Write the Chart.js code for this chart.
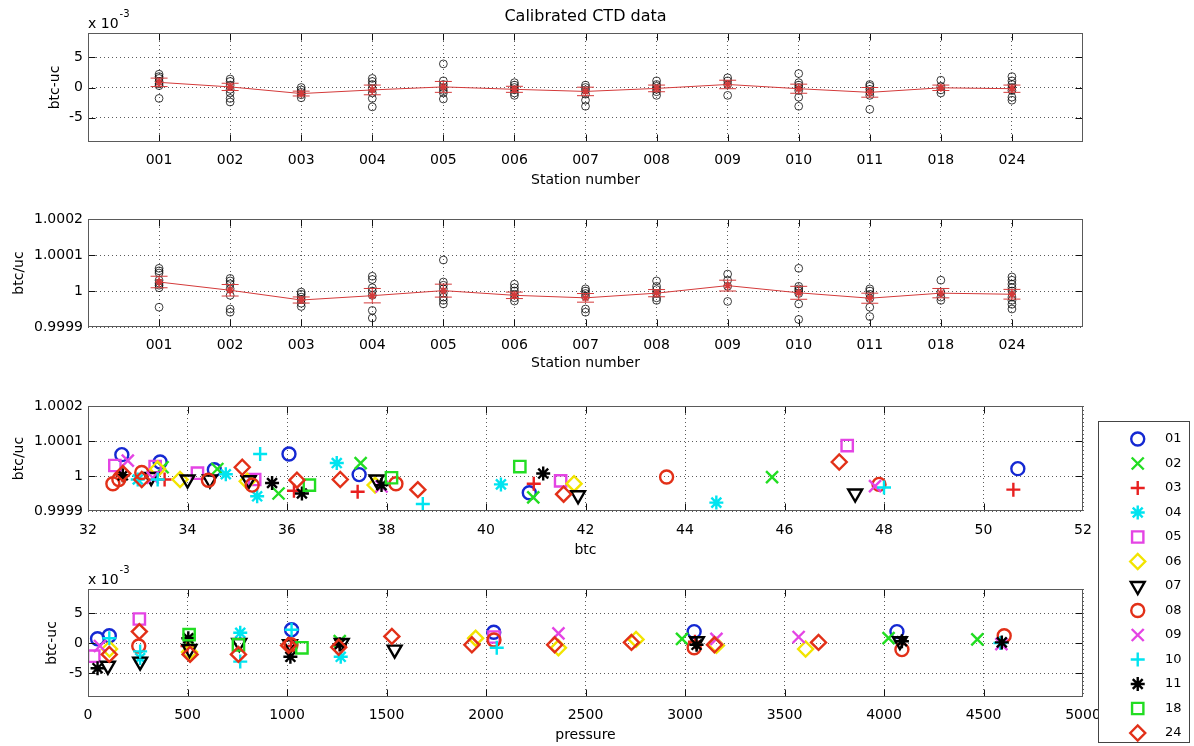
<!DOCTYPE html>
<html><head><meta charset="utf-8">
<script src="https://cdn.jsdelivr.net/npm/chart.js@4.4.1/dist/chart.umd.min.js"></script>
<style>
html,body{margin:0;padding:0;background:#fff;}
body{width:1194px;height:746px;position:relative;overflow:hidden;}
canvas{position:absolute;left:0;}
#legendBox{position:absolute;left:1098px;top:421px;width:92px;height:322px;box-sizing:border-box;border:1px solid #444;background:#fff;z-index:5;}
#cLegend{left:1099px;top:401px;z-index:6;}
</style></head><body>
<canvas id="c1" width="1194" height="200" style="top:0px"></canvas>
<canvas id="c2" width="1194" height="180" style="top:200px"></canvas>
<canvas id="c3" width="1194" height="186" style="top:380px"></canvas>
<canvas id="c4" width="1194" height="186" style="top:560px"></canvas>
<div id="legendBox"></div>
<canvas id="cLegend" width="90" height="362"></canvas>
<script>
// ---------------- data ----------------
const stations = ['001','002','003','004','005','006','007','008','009','010','011','018','024'];

// btc-uc per station (units of 1e-3)
const stationDiff = [
  [2.2, 1.8, 1.5, 1.0, 0.6, 0.3, -1.8],
  [1.4, 1.0, 0.4, -0.3, -0.9, -1.8, -2.4],
  [0.0, -0.4, -0.8, -1.2, -1.7],
  [1.5, 1.0, 0.5, -0.2, -0.9, -1.8, -3.2],
  [3.9, 1.1, 0.5, 0.0, -0.5, -0.9, -1.9],
  [0.8, 0.4, 0.0, -0.4, -0.9, -1.3],
  [0.4, 0.0, -0.4, -1.1, -2.1, -3.1],
  [1.1, 0.5, 0.2, -0.3, -0.7, -1.3],
  [1.6, 1.1, 0.5, -1.3],
  [2.3, 0.8, 0.4, 0.0, -0.5, -1.6, -3.1],
  [0.5, 0.2, -0.3, -0.8, -1.3, -3.6],
  [1.2, 0.2, -0.4, -0.9],
  [1.8, 1.1, 0.5, 0.0, -0.5, -1.6, -2.1]
];
const meanDiff = [0.85, 0.1, -1.0, -0.4, 0.1, -0.3, -0.65, -0.15, 0.5, -0.2, -0.8, -0.05, -0.2];
const errDiff  = [0.7, 0.6, 0.4, 0.8, 0.9, 0.5, 0.7, 0.55, 0.7, 0.75, 0.8, 0.45, 0.6];

// btc/uc per station
const stationRatio = [
  [1.000063, 1.000056, 1.000050, 1.000030, 1.000022, 1.000016, 1.000009, 0.999955],
  [1.000035, 1.000028, 1.000020, 1.000006, 0.999988, 0.999950, 0.999941],
  [0.999997, 0.999991, 0.999983, 0.999976, 0.999966, 0.999957],
  [1.000041, 1.000032, 1.000009, 1.000000, 0.999988, 0.999946, 0.999925],
  [1.000086, 1.000025, 1.000016, 1.000006, 0.999994, 0.999983, 0.999974, 0.999964],
  [1.000019, 1.000009, 1.000000, 0.999991, 0.999981, 0.999972],
  [1.000006, 1.000000, 0.999993, 0.999985, 0.999950, 0.999941],
  [1.000028, 1.000013, 1.000004, 0.999993, 0.999981, 0.999974],
  [1.000047, 1.000030, 1.000013, 0.999971],
  [1.000063, 1.000013, 1.000006, 1.000000, 0.999993, 0.999964, 0.999921],
  [1.000006, 1.000000, 0.999991, 0.999979, 0.999955, 0.999929],
  [1.000030, 0.999997, 0.999983, 0.999974],
  [1.000039, 1.000030, 1.000019, 1.000009, 1.000000, 0.999983, 0.999974, 0.999963, 0.999950]
];
const meanRatio = [1.000025, 1.000002, 0.999975, 0.999987, 1.000001, 0.999988, 0.999981, 0.999994, 1.000015, 0.999995, 0.999980, 0.999994, 0.999991];
const errRatio  = [0.000016, 0.000016, 0.0000085, 0.000020, 0.000018, 0.000009, 0.000012, 0.000010, 0.000015, 0.000018, 0.000014, 0.000013, 0.0000135];

// per series (bottle set) values
const seriesNames = ['01','02','03','04','05','06','07','08','09','10','11','18','24'];
const btcX = [
  [32.68, 33.45, 34.54, 36.04, 37.45, 40.87, 50.69],
  [33.5, 34.6, 35.83, 37.48, 40.95, 45.75],
  [33.54, 36.14, 37.42, 40.96, 50.6],
  [33.0, 34.77, 35.4, 37.0, 40.3, 44.63],
  [32.54, 33.35, 34.2, 35.35, 41.5, 47.26],
  [33.4, 33.85, 35.2, 37.77, 41.77],
  [33.27, 34.0, 34.45, 35.23, 37.8, 41.85, 47.42],
  [32.5, 32.62, 33.08, 34.42, 35.3, 38.19, 43.63, 47.9],
  [32.8, 33.3, 37.9, 47.82],
  [33.4, 35.46, 38.73, 48.0],
  [32.7, 35.7, 36.3, 37.9, 41.15],
  [36.45, 38.1, 40.68],
  [32.7, 33.08, 35.1, 36.2, 37.07, 38.63, 41.56, 47.1]
];
const btcRatio = [
  [1.000061, 1.000040, 1.000018, 1.000063, 1.000004, 0.999952, 1.000021],
  [1.000025, 1.000020, 0.999950, 1.000037, 0.999939, 0.999997],
  [0.999990, 0.999958, 0.999955, 0.999978, 0.999961],
  [0.999990, 1.000005, 0.999942, 1.000037, 0.999976, 0.999924],
  [1.000030, 1.000027, 1.000008, 0.999990, 0.999986, 1.000087],
  [1.000020, 0.999990, 0.999985, 0.999974, 0.999978],
  [0.999997, 0.999990, 0.999990, 0.999988, 0.999990, 0.999945, 0.999950],
  [0.999978, 0.999990, 1.000010, 0.999988, 0.999974, 0.999978, 0.999997, 0.999976],
  [1.000044, 0.999995, 0.999970, 0.999971],
  [0.999990, 1.000063, 0.999920, 0.999967],
  [1.000002, 0.999980, 0.999950, 0.999974, 1.000007],
  [0.999974, 0.999995, 1.000027],
  [1.000007, 0.999990, 1.000025, 0.999988, 0.999990, 0.999961, 0.999948, 1.000040]
];
const presX = [
  [48, 107, 1023, 2039, 3046, 4065],
  [508, 1265, 2985, 4023, 4469],
  [500, 1020, 1265, 3050],
  [262, 765, 1270],
  [29, 258, 2040],
  [108, 510, 1948, 2364, 2754, 3158, 3606],
  [100, 262, 510, 760, 1015, 1275, 1541, 3060, 4080],
  [255, 1020, 2040, 3046, 4090, 4604],
  [60, 2364, 3158, 3571, 4590],
  [107, 262, 765, 1023, 2054, 4585],
  [48, 504, 1017, 1265, 3058, 4090, 4592],
  [508, 756, 1075],
  [107, 258, 513, 756, 1008, 1260, 1527, 1929, 2345, 2731, 3148, 3671]
];
// btc-uc (units of 1e-3)
const presDiff = [
  [0.7, 1.2, 2.2, 1.8, 1.9, 1.9],
  [0.5, 0.3, 0.7, 0.8, 0.6],
  [-0.5, -0.5, -0.3, 0.2],
  [-2.5, 1.7, -2.3],
  [-2.2, 4.0, 1.0],
  [-1.0, -1.5, 0.8, -0.8, 0.6, -0.4, -1.0],
  [-3.8, -3.1, -1.0, 0.0, -0.2, 0.0, -1.1, 0.3, 0.3],
  [-0.5, -0.3, 0.5, -0.8, -1.1, 1.2],
  [-0.5, 1.6, 0.7, 1.0, -0.2],
  [0.8, -1.4, -3.1, 2.2, -0.8, 0.0],
  [-4.2, 0.8, -2.3, -0.2, -0.3, 0.3, 0.1],
  [1.4, -0.3, -0.8],
  [-1.9, 1.9, -1.9, -1.9, -0.4, -0.7, 1.1, -0.3, -0.3, 0.1, -0.3, 0.1]
];

// tick labels
const diffTicks = [-5, 0, 5];
const ratioTicks = [0.9999, 1, 1.0001, 1.0002];
const ratioTickLabels = ['0.9999', '1', '1.0001', '1.0002'];
const btcTicks = [32, 34, 36, 38, 40, 42, 44, 46, 48, 50, 52];
const presTicks = [0, 500, 1000, 1500, 2000, 2500, 3000, 3500, 4000, 4500, 5000];

// ---------------- styles ----------------
const seriesStyles = [
  {s:'circle',  c:'#1428d2', r:6.5},
  {s:'crossRot',c:'#22dd22', r:8.5},
  {s:'cross',   c:'#e82020', r:7},
  {s:'star',    c:'#00e4f0', r:7},
  {s:'rect',    c:'#e444e4', r:8},
  {s:'rectRot', c:'#f2e400', r:7.5},
  {s:'triangle',c:'#000000', r:8, rot:180},
  {s:'circle',  c:'#e23018', r:6.5},
  {s:'crossRot',c:'#e444e4', r:8.5},
  {s:'cross',   c:'#00e4f0', r:7},
  {s:'star',    c:'#000000', r:7},
  {s:'rect',    c:'#22dd22', r:8},
  {s:'rectRot', c:'#e23018', r:7.5}
];
function seriesStyle(i){
  const st = seriesStyles[i];
  return {pointStyle: st.s, pointRotation: st.rot || 0, pointRadius: st.r,
    borderColor: st.c, pointBorderColor: st.c, backgroundColor: 'rgba(0,0,0,0)',
    pointBackgroundColor: 'rgba(0,0,0,0)', pointBorderWidth: 2.4, borderWidth: 2.4, order: 12 - i};
}

Chart.defaults.font.family = "'DejaVu Sans', sans-serif";
Chart.defaults.font.size = 14;
Chart.defaults.color = '#000';
Chart.defaults.animation = false;

const boxPlugin = {
  id: 'mbox',
  afterDatasetsDraw(chart, args, opts) {
    const {ctx, chartArea: a, scales} = chart;
    const L = Math.round(a.left) + 0.5, R = Math.round(a.right) - 0.5;
    const T = Math.round(a.top) + 0.5, B = Math.round(a.bottom) - 0.5;
    ctx.save();
    ctx.lineWidth = 1;
    ctx.strokeStyle = '#111';
    ctx.beginPath();
    scales.x.ticks.forEach(t => {
      const p = Math.round(scales.x.getPixelForValue(t.value)) + 0.5;
      if (p <= L + 1 || p >= R - 1) return;
      ctx.moveTo(p, B); ctx.lineTo(p, B - 7);
      ctx.moveTo(p, T); ctx.lineTo(p, T + 7);
    });
    scales.y.ticks.forEach(t => {
      const p = Math.round(scales.y.getPixelForValue(t.value)) + 0.5;
      if (p <= T + 1 || p >= B - 1) return;
      ctx.moveTo(L, p); ctx.lineTo(L + 7, p);
      ctx.moveTo(R, p); ctx.lineTo(R - 7, p);
    });
    ctx.stroke();
    ctx.strokeStyle = '#5a5a5a';
    ctx.strokeRect(L, T, R - L, B - T);
    if (opts.exponent) {
      ctx.fillStyle = '#000';
      ctx.textBaseline = 'alphabetic';
      ctx.textAlign = 'left';
      ctx.font = "14px 'DejaVu Sans', sans-serif";
      const base = 'x 10';
      ctx.fillText(base, a.left, a.top - 5);
      const w = ctx.measureText(base).width;
      ctx.font = "10px 'DejaVu Sans', sans-serif";
      ctx.fillText(opts.exponent, a.left + w + 1, a.top - 16);
    }
    ctx.restore();
  }
};

const gridOpts = {color: 'rgba(50,50,50,0.8)', lineWidth: 1, borderDash: [1, 3], drawTicks: false};
const borderOpts = {display: false, dash: [1, 3]};

function xAxis(min, max, tickVals, labelFn, title, pad, height) {
  return {
    type: 'linear', position: 'bottom', min, max,
    grid: gridOpts, border: borderOpts,
    afterBuildTicks: s => { s.ticks = tickVals.map(v => ({value: v})); },
    afterFit: s => { s.height = height; },
    ticks: {padding: pad, autoSkip: false, maxRotation: 0, minRotation: 0, font: {size: 14},
      callback: (v, i) => labelFn(i)},
    title: {display: true, text: title, padding: 0, font: {size: 14}}
  };
}
function yAxis(min, max, tickVals, labelFn, title, width) {
  return {
    type: 'linear', position: 'left', min, max,
    grid: gridOpts, border: borderOpts,
    afterBuildTicks: s => { s.ticks = tickVals.map(v => ({value: v})); },
    afterFit: s => { s.width = width; },
    ticks: {padding: 5, font: {size: 14}, callback: (v, i) => labelFn(i)},
    title: {display: true, text: title, padding: 0, font: {size: 14}}
  };
}

function stationChart(id, values, means, errs, yMin, yMax, yT, yL, yTitle, yWidth, layout, xHeight, xPad, extra) {
  const circles = stations.flatMap((s, i) => values[i].map(v => ({x: i + 1, y: v})));
  const stems = stations.flatMap((s, i) => [{x: i + 1, y: means[i] - errs[i]}, {x: i + 1, y: means[i] + errs[i]}, {x: i + 1, y: null}]);
  const caps = stations.flatMap((s, i) => [{x: i + 1, y: means[i] - errs[i]}, {x: i + 1, y: means[i] + errs[i]}]);
  const meanPts = stations.map((s, i) => ({x: i + 1, y: means[i]}));
  const red = '#d43a3a';
  return new Chart(document.getElementById(id), {
    type: 'scatter',
    data: {datasets: [
      {type: 'line', data: meanPts, borderColor: red, borderWidth: 1, pointStyle: 'star', pointRadius: 4,
        pointBorderColor: red, pointBorderWidth: 1.5, backgroundColor: red, order: 0, tension: 0},
      {type: 'line', data: stems, borderColor: red, borderWidth: 1, pointRadius: 0, spanGaps: false, order: 1},
      {data: caps, pointStyle: 'line', pointRadius: 8.5, pointBorderColor: red, borderColor: red, pointBorderWidth: 1, order: 1},
      {data: circles, pointStyle: 'circle', pointRadius: 3.9, pointBorderColor: 'rgba(0,0,0,0.85)',
        pointBackgroundColor: 'rgba(0,0,0,0)', pointBorderWidth: 0.9, order: 2}
    ]},
    options: {
      responsive: false, devicePixelRatio: 1, events: [],
      layout: {padding: layout},
      plugins: {legend: {display: false}, tooltip: {enabled: false}, mbox: extra.mbox || {},
        title: extra.title || {display: false}},
      scales: {
        x: xAxis(0, 14, stations.map((s, i) => i + 1), i => stations[i], 'Station number', xPad, xHeight),
        y: yAxis(yMin, yMax, yT, yL, yTitle, yWidth)
      }
    },
    plugins: [boxPlugin]
  });
}

// Panel 1
stationChart('c1', stationDiff, meanDiff, errDiff, -9, 9, diffTicks, i => String(diffTicks[i]),
  'btc-uc', 41, {top: 0, left: 47, right: 111, bottom: 11.6}, 46.4, 9.6,
  {mbox: {exponent: '-3'}, title: {display: true, text: 'Calibrated CTD data', fullSize: false,
    font: {size: 16, weight: 'normal'}, color: '#000', padding: {top: 7.4, bottom: 6.4}}});

// Panel 2
stationChart('c2', stationRatio, meanRatio, errRatio, 0.9999, 1.0002, ratioTicks, i => ratioTickLabels[i],
  'btc/uc', 77.4, {top: 19, left: 10.6, right: 111, bottom: 8.6}, 44.4, 9.6, {});

// Panel 3
new Chart(document.getElementById('c3'), {
  type: 'scatter',
  data: {datasets: seriesNames.map((n, i) => Object.assign({label: n,
    data: btcX[i].map((x, j) => ({x, y: btcRatio[i][j]}))}, seriesStyle(i)))},
  options: {
    responsive: false, devicePixelRatio: 1, events: [],
    layout: {padding: {top: 26, left: 10.6, right: 111, bottom: 7.6}},
    plugins: {legend: {display: false}, tooltip: {enabled: false}, mbox: {}},
    scales: {
      x: xAxis(32, 52, btcTicks, i => String(btcTicks[i]), 'btc', 10.6, 47.4),
      y: yAxis(0.9999, 1.0002, ratioTicks, i => ratioTickLabels[i], 'btc/uc', 77.4)
    }
  },
  plugins: [boxPlugin]
});

// Panel 4
new Chart(document.getElementById('c4'), {
  type: 'scatter',
  data: {datasets: seriesNames.map((n, i) => Object.assign({label: n,
    data: presX[i].map((x, j) => ({x, y: presDiff[i][j]}))}, seriesStyle(i)))},
  options: {
    responsive: false, devicePixelRatio: 1, events: [],
    layout: {padding: {top: 29, left: 43.6, right: 111, bottom: 2.6}},
    plugins: {legend: {display: false}, tooltip: {enabled: false}, mbox: {exponent: '-3'}},
    scales: {
      x: xAxis(0, 5000, presTicks, i => String(presTicks[i]), 'pressure', 9.6, 46.4),
      y: yAxis(-9, 9, diffTicks, i => String(diffTicks[i]), 'btc-uc', 44.4)
    }
  },
  plugins: [boxPlugin]
});

// Legend (a small chart of one marker per series, labels on its right axis)
new Chart(document.getElementById('cLegend'), {
  type: 'scatter',
  data: {datasets: seriesNames.map((n, i) => Object.assign({label: n, data: [{x: 0, y: i}], clip: false}, seriesStyle(i)))},
  options: {
    responsive: false, devicePixelRatio: 1, events: [],
    layout: {padding: {top: 20, bottom: 20, left: 0, right: 0}},
    plugins: {legend: {display: false}, tooltip: {enabled: false}},
    scales: {
      x: {type: 'linear', display: false, min: -34, max: 26},
      y: {type: 'linear', position: 'right', reverse: true, min: -0.7347, max: 12.408,
        grid: {display: false, drawTicks: false}, border: {display: false},
        afterBuildTicks: s => { s.ticks = seriesNames.map((n, i) => ({value: i})); },
        afterFit: s => { s.width = 30; },
        ticks: {padding: 6, font: {size: 13}, autoSkip: false, callback: (v, i) => seriesNames[i]}}
    }
  }
});
</script>
</body></html>
